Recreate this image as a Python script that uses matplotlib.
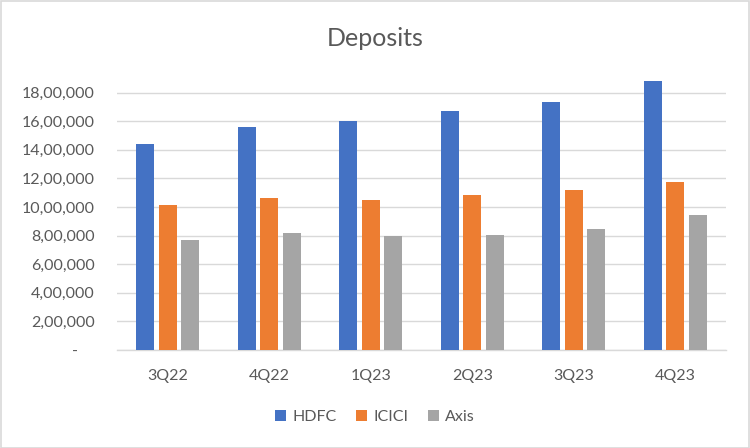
import matplotlib
matplotlib.use("Agg")
import matplotlib.pyplot as plt
from matplotlib.ticker import FuncFormatter
from matplotlib.patches import Rectangle
import numpy as np

categories = ["3Q22", "4Q22", "1Q23", "2Q23", "3Q23", "4Q23"]
hdfc = [1441000, 1560000, 1602000, 1672000, 1735000, 1882000]
icici = [1014000, 1066000, 1049000, 1084000, 1121000, 1175000]
axis_b = [769500, 818000, 800000, 804000, 846000, 944000]
series_names = ["HDFC", "ICICI", "Axis"]
colors = ["#4472C4", "#ED7D31", "#A5A5A5"]

plt.rcParams['font.family'] = ['Lato', 'DejaVu Sans']

def indian(v, pos=None):
    v = int(round(v))
    if v == 0:
        return "-    "
    s = str(v)
    last3 = s[-3:]
    rest = s[:-3]
    parts = []
    while len(rest) > 2:
        parts.insert(0, rest[-2:])
        rest = rest[:-2]
    if rest:
        parts.insert(0, rest)
    return ",".join(parts + [last3])

fig = plt.figure(figsize=(7.5, 4.48), dpi=100)
ax = fig.add_axes([0.156, 0.2188, 0.812, 0.6127])
x = np.arange(len(categories))
w = 0.177
off = 0.222
for i, (vals, name, c) in enumerate(zip([hdfc, icici, axis_b], series_names, colors)):
    ax.bar(x + (i - 1) * off, vals, w, color=c, label=name, zorder=3)

ax.set_xlim(-0.5, len(categories) - 0.5)
ax.set_ylim(0, 1920000)
ax.set_yticks(np.arange(0, 1800001, 200000))
ax.yaxis.set_major_formatter(FuncFormatter(indian))
ax.grid(axis='y', color='#D9D9D9', linewidth=1.0, zorder=0)
for s in ['top', 'right', 'left']:
    ax.spines[s].set_visible(False)
ax.spines['bottom'].set_color('#D9D9D9')
ax.spines['bottom'].set_linewidth(1.0)
ax.tick_params(axis='both', length=0, colors='#595959', labelsize=11.5)
ax.tick_params(axis='y', pad=16)
ax.tick_params(axis='x', pad=14)
ax.set_xticks(x)
ax.set_xticklabels(categories)

fig.text(0.5, 0.915, "Deposits", ha='center', va='center', fontsize=18, color='#595959')
fig.legend(loc='center', bbox_to_anchor=(0.5, 0.069), ncol=3, frameon=False,
           fontsize=11.5, labelcolor='#595959', handlelength=0.7, handleheight=0.7,
           handletextpad=0.4, columnspacing=1.2)
fig.patches.append(Rectangle((0.001, 0.001), 0.997, 0.997, transform=fig.transFigure,
                             fill=False, edgecolor='#D9D9D9', linewidth=1.2))
fig.savefig("out.png", dpi=100)
